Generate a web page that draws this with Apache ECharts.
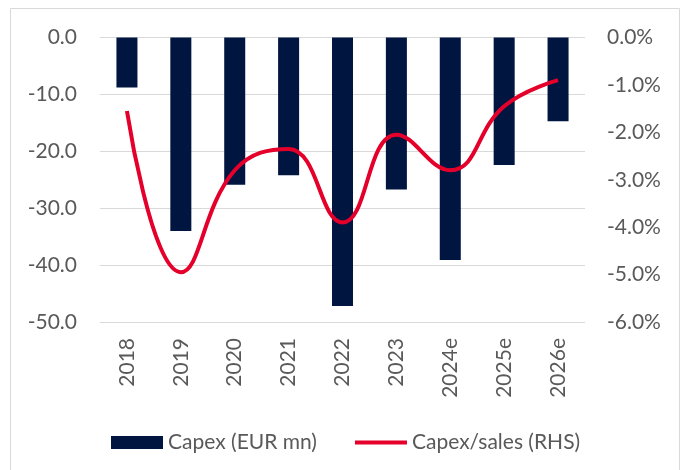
<!DOCTYPE html>
<html><head><meta charset="utf-8">
<script src="https://cdn.jsdelivr.net/npm/echarts@6/dist/echarts.min.js"></script>
<style>html,body{margin:0;padding:0;background:#fff}#c{width:688px;height:470px}</style>
</head><body><div id="c"></div>
<script>
const categories = ['2018','2019','2020','2021','2022','2023','2024e','2025e','2026e'];
const capex = [-8.8, -34.0, -25.9, -24.2, -47.2, -26.7, -39.1, -22.4, -14.7];
const capexSales = [-1.55, -4.95, -2.8, -2.35, -3.9, -2.05, -2.8, -1.45, -0.9];
const leftTicks = [0, -10, -20, -30, -40, -50];
const rightTicks = [0, -1, -2, -3, -4, -5, -6];

const font = 'Lato, "Noto Sans", sans-serif';
const fs = 21;
const chart = echarts.init(document.getElementById('c'));
chart.setOption({
  animation: false,
  graphic: [{type:'rect', shape:{x:10.5,y:8.5,width:669,height:480}, style:{fill:'none', stroke:'#D9D9D9', lineWidth:1}, silent:true}],
  grid: {left:100, right:103, top:37.5, bottom:148},
  legend: {
    top: 427, left: 106, itemGap: 38, itemWidth: 52, itemHeight: 13,
    textStyle: {fontFamily: font, fontSize: fs, color: '#595959'},
    data: [
      {name:'Capex (EUR mn)', icon:'rect'},
      {name:'Capex/sales (RHS)', icon:'path://M0,4.5 L52,4.5 L52,8.5 L0,8.5 Z'}
    ]
  },
  xAxis: {
    type: 'category', data: categories,
    axisLine: {show:false}, axisTick: {show:false},
    axisLabel: {rotate: 90, fontFamily: font, fontSize: fs, color: '#595959', margin: 16}
  },
  yAxis: [
    {type:'value', min:-50, max:0, interval:10,
     axisLine:{show:false}, axisTick:{show:false},
     splitLine:{lineStyle:{color:'#D9D9D9', width:1}},
     axisLabel:{fontFamily: font, fontSize:fs, color:'#595959', margin:23,
       formatter: v => v.toFixed(1)}},
    {type:'value', min:-6, max:0, interval:1, position:'right',
     axisLine:{show:false}, axisTick:{show:false}, splitLine:{show:false},
     axisLabel:{fontFamily: font, fontSize:fs, color:'#595959', margin:22,
       formatter: v => v.toFixed(1) + '%'}}
  ],
  series: [
    {name:'Capex (EUR mn)', type:'bar', data: capex, barWidth:'39%',
     itemStyle:{color:'#001641'}},
    {name:'Capex/sales (RHS)', type:'line', yAxisIndex:1, data: capexSales,
     smooth: 0.45, symbol:'none', lineStyle:{color:'#E4002B', width:4},
     itemStyle:{color:'#E4002B'}}
  ]
});
</script></body></html>
